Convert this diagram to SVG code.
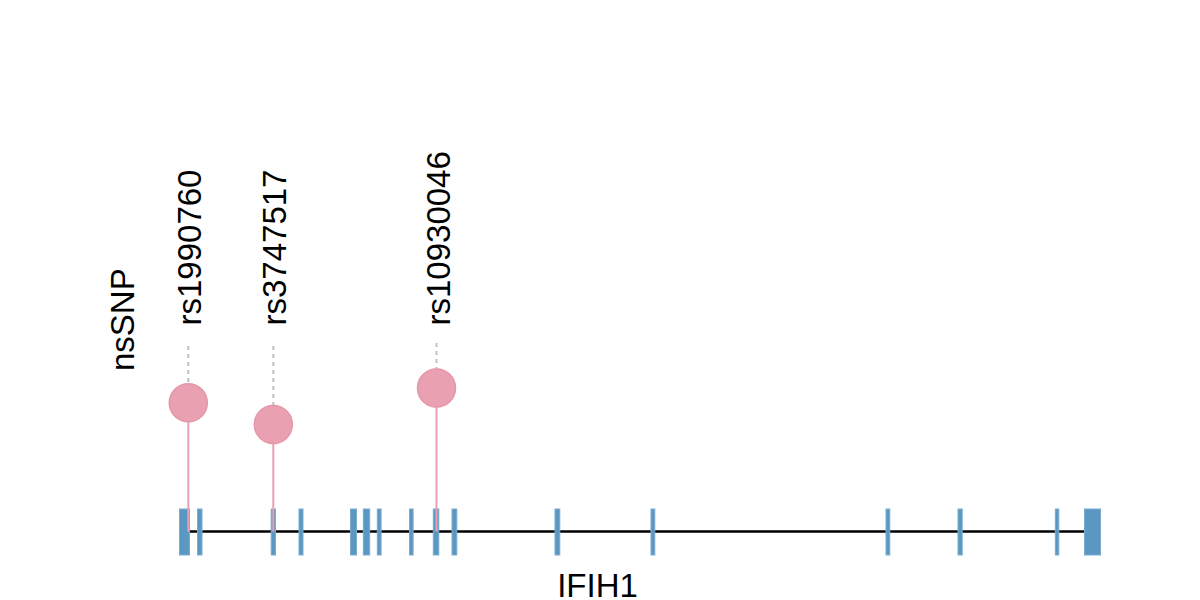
<svg xmlns="http://www.w3.org/2000/svg" width="1200" height="600" viewBox="0 0 1200 600">
<style>
.lbl{font-family:"Liberation Sans",Arial,sans-serif;font-size:33px;fill:#000}
.exon{fill:#5b97c3;stroke:#7aacd0;stroke-width:1}
.stem{stroke:#e9a1b1;stroke-width:2}
.dash{stroke:#c0c0c0;stroke-width:2;stroke-dasharray:4 4}
.snp{fill:#e9a1b1;stroke:#e596a8;stroke-width:1.5}
</style>
<rect width="1200" height="600" fill="#fff"/>
<g id="track-label"><text class="lbl" transform="translate(133.5,371) rotate(-90)">nsSNP</text></g>
<g id="gene">
<line x1="180" y1="531.5" x2="1100" y2="531.5" stroke="#000" stroke-width="2.5"/>
<g id="exons">
<rect class="exon" x="179.5" y="509" width="10" height="46"/>
<rect class="exon" x="197.5" y="509" width="4.5" height="46"/>
<rect class="exon" x="271.2" y="509" width="4.3" height="46"/>
<rect class="exon" x="299" y="509" width="4" height="46"/>
<rect class="exon" x="350.5" y="509" width="6" height="46"/>
<rect class="exon" x="363.3" y="509" width="6.4" height="46"/>
<rect class="exon" x="377.3" y="509" width="3.8" height="46"/>
<rect class="exon" x="409.5" y="509" width="3.6" height="46"/>
<rect class="exon" x="433.3" y="509" width="5.5" height="46"/>
<rect class="exon" x="452" y="509" width="4.8" height="46"/>
<rect class="exon" x="555" y="509" width="4.8" height="46"/>
<rect class="exon" x="651" y="509" width="3.8" height="46"/>
<rect class="exon" x="886" y="509" width="3.8" height="46"/>
<rect class="exon" x="958" y="509" width="4.2" height="46"/>
<rect class="exon" x="1055.3" y="509" width="3.5" height="46"/>
<rect class="exon" x="1084.5" y="509" width="16" height="46"/>
</g>
<text class="lbl" x="597.5" y="596.5" text-anchor="middle">IFIH1</text>
</g>
<g id="connectors">
<line class="dash" x1="188.3" y1="346" x2="188.3" y2="402.8"/>
<line class="dash" x1="273.3" y1="346" x2="273.3" y2="424.5"/>
<line class="dash" x1="436.5" y1="343" x2="436.5" y2="388"/>
<line class="stem" x1="188.3" y1="402.8" x2="188.3" y2="531.5"/>
<line class="stem" x1="273.3" y1="424.5" x2="273.3" y2="531.5"/>
<line class="stem" x1="436.5" y1="388" x2="436.5" y2="531.5"/>
</g>
<g id="snp-rs1990760">
<circle class="snp" cx="188.3" cy="402.8" r="19"/>
<text class="lbl" transform="translate(200.5,325.5) rotate(-90)">rs1990760</text>
</g>
<g id="snp-rs3747517">
<circle class="snp" cx="273.3" cy="424.5" r="19"/>
<text class="lbl" transform="translate(285.5,325.5) rotate(-90)">rs3747517</text>
</g>
<g id="snp-rs10930046">
<circle class="snp" cx="436.5" cy="388" r="19"/>
<text class="lbl" transform="translate(449.5,325.5) rotate(-90)">rs10930046</text>
</g>
</svg>
